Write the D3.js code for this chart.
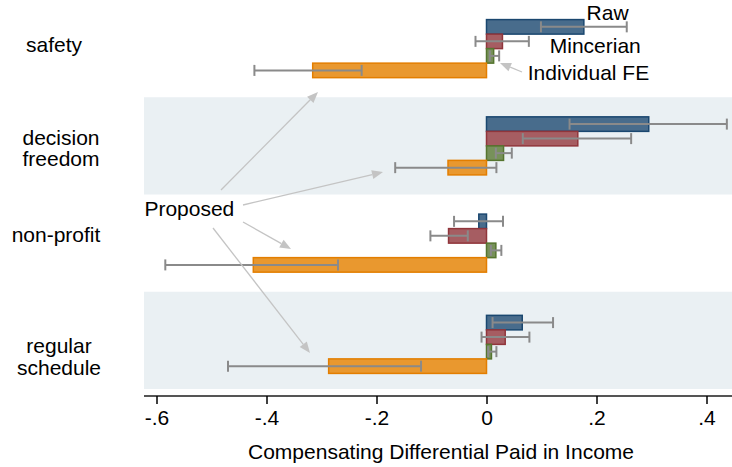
<!DOCTYPE html>
<html>
<head>
<meta charset="utf-8">
<script src="https://cdn.jsdelivr.net/npm/d3@7"></script>
<style>
  html, body { margin: 0; padding: 0; background: #fff; }
  svg { display: block; }
  text { font-family: "Liberation Sans", Arial, Helvetica, sans-serif; fill: #000; }
</style>
</head>
<body>
<svg id="chart" width="732" height="467"></svg>
<script>
// ---------- DATA ----------
const categories = ["safety", "decision freedom", "non-profit", "regular schedule"];
const categoryLines = [["safety"], ["decision", "freedom"], ["non-profit"], ["regular", "schedule"]];
const seriesNames = ["Raw", "Mincerian", "Individual FE", "Proposed"];

// point estimates per category (same order as categories)
const rawEst  = [0.177, 0.295, -0.014, 0.065];
const rawLo   = [0.099, 0.151, -0.059, 0.011];
const rawHi   = [0.255, 0.437,  0.030, 0.121];

const mincEst = [0.029, 0.166, -0.069, 0.034];
const mincLo  = [-0.020, 0.066, -0.102, -0.009];
const mincHi  = [0.077, 0.263, -0.034, 0.078];

const feEst   = [0.013, 0.031, 0.017, 0.009];
const feLo    = [0.006, 0.017, 0.008, 0.003];
const feHi    = [0.023, 0.046, 0.027, 0.018];

const propEst = [-0.316, -0.070, -0.424, -0.287];
const propLo  = [-0.422, -0.166, -0.584, -0.470];
const propHi  = [-0.227, 0.018, -0.270, -0.119];

const tickValues = [-0.6, -0.4, -0.2, 0, 0.2, 0.4];
const tickLabels = ["-.6", "-.4", "-.2", "0", ".2", ".4"];
const xTitle = "Compensating Differential Paid in Income";

// ---------- STYLE ----------
const fills   = ["#486c8c", "#a65d62", "#77915a", "#e9982f"];
const strokes = ["#1a476f", "#90353b", "#55752f", "#e37e00"];
const bandFill = "#eaf0f3";
const ciColor = "#8a8a8a";
const annColor = "#c4c4c4";
const FS = 21;

const estimates = [rawEst, mincEst, feEst, propEst];
const lows = [rawLo, mincLo, feLo, propLo];
const highs = [rawHi, mincHi, feHi, propHi];

const svg = d3.select("#chart");
const plotLeft = 144, plotRight = 732, plotTop = 0, plotBottom = 389;

const x = d3.scaleLinear().domain([-0.6, 0.4]).range([156.5, 706.5]);
const y = d3.scaleBand().domain(categories).range([plotTop, plotBottom]);
const yIn = d3.scaleBand().domain(seriesNames).range([0, y.bandwidth()]).paddingOuter(1.35);
const groupDy = [0, 0, 0, 4];

// shaded bands for alternate categories
svg.append("g").selectAll("rect").data(categories.filter((c, i) => i % 2 === 1)).join("rect")
  .attr("x", plotLeft).attr("width", plotRight - plotLeft)
  .attr("y", d => y(d)).attr("height", y.bandwidth())
  .attr("fill", bandFill);

// bars
const rows = [];
categories.forEach((c, ci) => {
  seriesNames.forEach((s, si) => {
    rows.push({ c, ci, s, si, v: estimates[si][ci], lo: lows[si][ci], hi: highs[si][ci] });
  });
});

const bh = yIn.bandwidth();
const barY = d => y(d.c) + yIn(d.s) + groupDy[d.ci];
svg.append("g").selectAll("rect").data(rows).join("rect")
  .attr("x", d => Math.min(x(0), x(d.v)))
  .attr("width", d => Math.abs(x(d.v) - x(0)))
  .attr("y", barY)
  .attr("height", bh)
  .attr("fill", d => fills[d.si])
  .attr("stroke", d => strokes[d.si])
  .attr("stroke-width", 1.5);

// confidence intervals
const ci = svg.append("g").attr("stroke", ciColor).attr("stroke-width", 2).attr("fill", "none");
rows.forEach(d => {
  const cy = barY(d) + bh / 2;
  ci.append("line").attr("x1", x(d.lo)).attr("x2", x(d.hi)).attr("y1", cy).attr("y2", cy);
  [d.lo, d.hi].forEach(v => {
    ci.append("line").attr("x1", x(v)).attr("x2", x(v)).attr("y1", cy - 5.5).attr("y2", cy + 5.5);
  });
});

// axis
const axisY = 396;
svg.append("line").attr("x1", plotLeft).attr("x2", plotRight).attr("y1", axisY).attr("y2", axisY)
  .attr("stroke", "#555").attr("stroke-width", 2);
const axis = d3.axisBottom(x).tickValues(tickValues).tickFormat((d, i) => tickLabels[i]).tickSize(8).tickPadding(6);
const ag = svg.append("g").attr("transform", `translate(0,${axisY})`).call(axis);
ag.select(".domain").remove();
ag.selectAll(".tick line").attr("stroke", "#000").attr("stroke-width", 1.5);
ag.selectAll(".tick text").attr("font-size", FS).attr("font-family", "Liberation Sans, Arial, sans-serif").attr("fill", "#000");

svg.append("text").attr("x", 441).attr("y", 459)
  .attr("text-anchor", "middle").attr("font-size", FS).text(xTitle);

// category labels
const labelDy = [3.5, -1, -1, 13];
const labelX = [54, 61, 56, 59];
categories.forEach((c, i) => {
  const lines = categoryLines[i];
  const cy = y(c) + y.bandwidth() / 2 + labelDy[i];
  const t = svg.append("text").attr("text-anchor", "middle").attr("font-size", FS);
  lines.forEach((ln, j) => {
    t.append("tspan").attr("x", labelX[i]).attr("y", cy + j * 21.5).text(ln);
  });
});

// ---------- ANNOTATIONS ----------
function arrow(x1, y1, x2, y2) {
  const ang = Math.atan2(y2 - y1, x2 - x1);
  const L = 11, Wd = 4.5;
  const bx = x2 - L * Math.cos(ang), by = y2 - L * Math.sin(ang);
  svg.append("line").attr("x1", x1).attr("y1", y1).attr("x2", bx).attr("y2", by)
    .attr("stroke", annColor).attr("stroke-width", 1.3);
  const p1 = [bx + Wd * Math.sin(ang), by - Wd * Math.cos(ang)];
  const p2 = [bx - Wd * Math.sin(ang), by + Wd * Math.cos(ang)];
  svg.append("path").attr("d", `M${x2},${y2}L${p1[0]},${p1[1]}L${p2[0]},${p2[1]}Z`).attr("fill", annColor);
}

svg.append("text").attr("x", x(0.182)).attr("y", 20).attr("font-size", FS).text("Raw");
svg.append("text").attr("x", x(0.115)).attr("y", 53).attr("font-size", FS).text("Mincerian");
svg.append("text").attr("x", x(0.075)).attr("y", 80).attr("font-size", FS).text("Individual FE");
arrow(522, 72, 500, 63);

svg.append("text").attr("x", x(-0.622)).attr("y", 216).attr("font-size", FS).text("Proposed");
arrow(221, 190, 318, 92);
arrow(243, 205, 383, 172);
arrow(243, 222, 291, 249);
arrow(213, 228, 310, 353);
</script>
</body>
</html>
